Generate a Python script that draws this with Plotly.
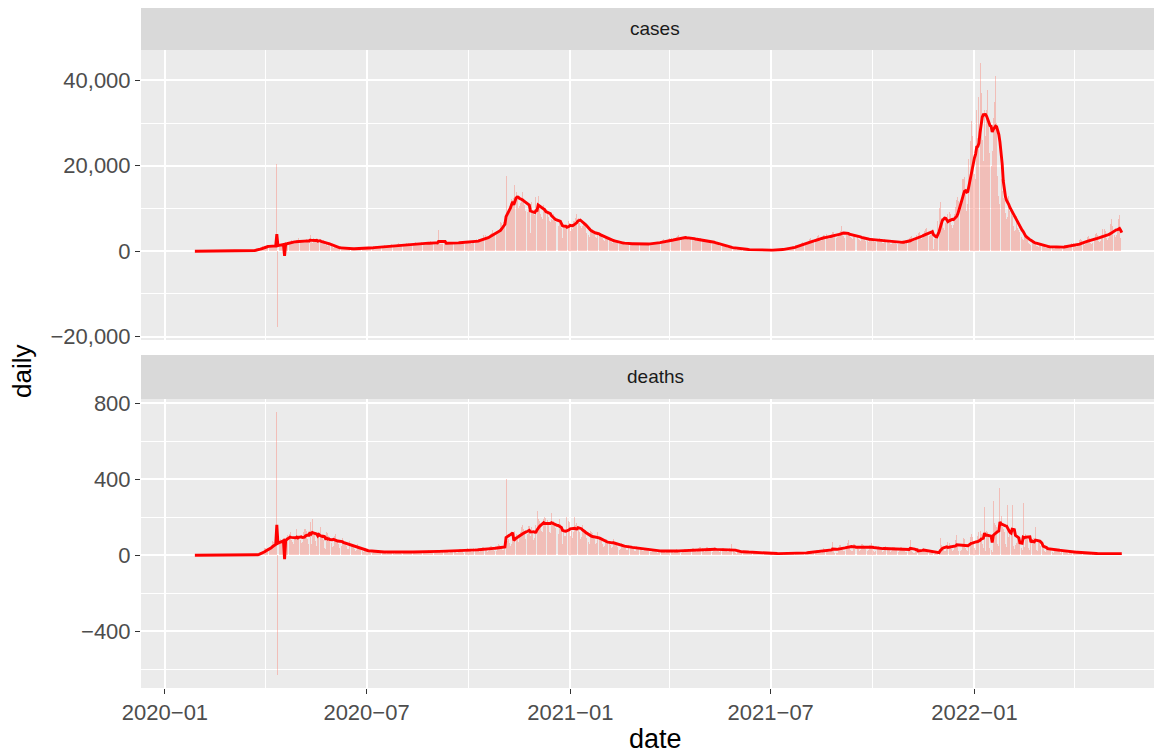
import pandas as pd
import plotly.graph_objects as go

# ---------------- data ----------------
start_date = "2020-01-22"
panel_names = ["cases", "deaths"]
x_tick_dates = ["2020-01-01", "2020-07-01", "2021-01-01", "2021-07-01", "2022-01-01"]
x_tick_labels = ["2020\u221201", "2020\u221207", "2021\u221201", "2021\u221207", "2022\u221201"]
x_minor_dates = ["2020-04-01", "2020-10-01", "2021-04-01", "2021-10-01", "2022-04-01"]
cases_tick_vals = [-20000, 0, 20000, 40000]
cases_tick_labels = ["\u221220,000", "0", "20,000", "40,000"]
cases_minor_vals = [-10000, 10000, 30000]
deaths_tick_vals = [-400, 0, 400, 800]
deaths_tick_labels = ["\u2212400", "0", "400", "800"]
deaths_minor_vals = [-600, -200, 200, 600]

# daily new cases, one row per week (Wed..Tue) starting 2020-01-22
cases_weeks = [
    [0, 0, 1, 0, 0, 0, 0], [0, 1, 0, 0, 0, 0, 0], [0, 0, 0, 0, 0, 0, 0], [0, 0, 0, 0, 0, 0, 0],
    [0, 0, 0, 0, 0, 0, 0], [0, 0, 0, 1, 0, 1, 0], [2, 0, 1, 0, 3, 1, 4], [6, 7, 14, 18, 29, 12, 55],
    [130, 180, 250, 270, 300, 350, 270], [600, 700, 800, 900, 1100, 950, 1250],
    [1000, 1200, 1250, 1150, 1100, 1050, 1300], [1300, 1350, 1400, 20400, -17700, 1450, 1600],
    [1500, 1750, 1850, 1700, 2050, 1800, 2150], [2050, 1950, 2700, 2450, 2100, 1850, 2250],
    [2200, 2600, 3100, 2450, 2300, 2100, 2200], [2300, 2650, 2850, 2550, 1850, 3700, 2050],
    [2000, 3200, 2500, 2250, 2050, 2300, 2500], [2350, 2250, 2000, 2550, 1700, 1400, 1900],
    [1100, 1600, 1300, 1200, 1000, 800, 1050], [900, 850, 750, 700, 600, 650, 800],
    [650, 600, 550, 500, 450, 480, 690], [620, 660, 600, 550, 480, 500, 790],
    [720, 880, 750, 650, 600, 540, 760], [870, 950, 800, 700, 660, 710, 1050],
    [1020, 1100, 1200, 850, 780, 720, 1000], [1200, 1250, 1400, 1100, 950, 900, 1250],
    [1550, 1400, 1650, 1300, 1200, 1100, 1250], [1650, 1900, 1750, 1500, 1350, 1300, 1400],
    [1800, 1950, 1650, 1850, 1550, 1450, 1650], [1950, 1750, 2200, 1800, 1550, 1600, 1750],
    [1900, 2250, 2000, 1800, 1650, 1650, 1700], [2100, 2150, 2350, 1900, 1800, 1650, 1700],
    [2000, 1950, 5000, 1950, 1650, 1600, 1700], [1850, 2100, 2200, 1900, 1750, 1650, 1850],
    [1950, 2050, 2150, 1900, 1800, 1850, 1950], [2100, 2200, 2250, 1900, 1750, 1800, 2000],
    [2200, 2300, 2400, 2100, 1800, 1850, 2050], [2450, 2800, 2700, 2850, 2550, 2300, 2550],
    [2900, 3700, 3800, 3300, 3000, 2900, 3500], [4000, 4300, 4900, 4200, 3900, 4100, 4700],
    [5000, 5200, 6900, 6600, 6200, 6800, 7400], [17600, 8700, 9500, 10500, 10400, 12300, 11900],
    [12500, 15600, 13900, 12200, 10100, 10600, 11200], [12300, 13800, 12000, 10700, 9400, 9200, 9600],
    [10700, 4200, 11600, 9300, 9500, 8400, 12800], [11000, 12900, 10200, 8800, 7900, 7600, 10900],
    [9400, 10000, 9300, 8000, 7000, 6800, 7600], [7200, 8800, 7500, 6900, 6000, 5800, 7500],
    [6700, 5500, 3200, 6300, 5800, 5900, 5800], [7100, 6700, 4800, 6000, 5300, 7100, 7100],
    [7800, 8700, 7700, 6700, 5900, 5500, 6000], [6600, 6400, 6000, 4200, 3900, 3400, 4500],
    [4800, 5300, 4500, 4000, 3300, 3000, 4500], [4000, 3800, 3600, 3200, 2700, 2500, 3300],
    [2900, 3100, 2700, 2400, 2100, 2000, 2300], [2400, 2500, 2300, 2000, 1800, 1700, 1650],
    [1900, 2000, 2100, 1700, 1600, 1500, 1800], [1900, 2000, 1800, 1650, 1500, 1400, 1650],
    [1800, 1850, 1800, 1650, 1450, 1400, 1600], [1800, 2000, 1900, 1700, 1600, 1500, 1750],
    [2100, 2250, 2200, 2000, 1800, 1700, 1950], [2500, 2700, 2900, 2400, 2100, 2000, 2200],
    [2800, 3100, 3200, 2800, 2300, 2400, 2650], [3300, 3600, 3900, 3200, 2800, 2700, 2900],
    [3400, 3500, 3600, 3100, 2700, 2600, 2800], [3000, 3200, 3100, 2600, 2400, 2300, 2300],
    [2700, 3000, 2900, 2500, 2200, 2150, 2400], [2400, 2500, 2300, 2000, 1800, 1700, 2000],
    [1800, 1900, 1700, 1400, 1200, 1100, 1400], [1200, 1300, 1100, 900, 800, 700, 1000],
    [800, 900, 750, 600, 500, 350, 650], [550, 600, 500, 400, 350, 300, 450],
    [400, 420, 380, 280, 250, 220, 290], [300, 330, 310, 230, 200, 190, 260],
    [290, 320, 300, 220, 180, 170, 270], [330, 350, 280, 220, 160, 200, 350],
    [450, 520, 500, 400, 300, 330, 440], [700, 800, 820, 650, 550, 520, 720],
    [1100, 1300, 1450, 1250, 1100, 1050, 1500], [1700, 2000, 2200, 1700, 1500, 1500, 2000],
    [2400, 2800, 3000, 2300, 2100, 2200, 2700], [3100, 3500, 3800, 2800, 2500, 2500, 3150],
    [3700, 3800, 4000, 3200, 2900, 2900, 3650], [4000, 4400, 4600, 3500, 3200, 3300, 3950],
    [4500, 4800, 5900, 3800, 3500, 3200, 3700], [4400, 4600, 4500, 3400, 3100, 2900, 4050],
    [3700, 3900, 3800, 2900, 2600, 2500, 3350], [3100, 3300, 3200, 2500, 2300, 2200, 3000],
    [2900, 3100, 3100, 2400, 2200, 2100, 2750], [2900, 3000, 2900, 2300, 2000, 2000, 2750],
    [2600, 2700, 2500, 2000, 1800, 1800, 2350], [2300, 2400, 2300, 1700, 1600, 1600, 2100],
    [2400, 2700, 2600, 1900, 1700, 1900, 2550], [3000, 3400, 3500, 2500, 2300, 2500, 3100],
    [3800, 4300, 4500, 3200, 2900, 3100, 4100], [4700, 5300, 5500, 3900, 3500, 3800, 4800],
    [5200, 400, 2800, 3400, 3100, 7000, 10000], [11600, 7800, 7500, 5400, 5000, 6600, 7200],
    [8800, 9200, 8600, 6200, 5500, 6200, 8700], [10300, 11900, 12600, 11800, 10100, 12500, 16900],
    [16800, 17400, 13600, 9500, 11000, 21500, 25700], [30400, 27000, 19500, 18000, 17000, 33000, 26600],
    [36000, 44000, 37000, 26000, 21000, 33000, 27000], [33000, 37800, 31000, 23000, 20000, 23500, 31200],
    [35000, 41000, 30000, 17500, 13000, 11000, 17000], [14000, 12500, 12300, 9000, 7500, 8000, 13000],
    [9400, 9000, 8200, 5800, 4700, 5000, 8300], [5500, 5000, 4600, 3300, 2800, 2600, 4200],
    [3000, 2900, 2700, 1900, 1600, 1500, 2500], [2100, 2000, 1900, 1300, 1100, 1000, 1800],
    [1500, 1400, 1300, 900, 750, 700, 1150], [1250, 1200, 1150, 750, 600, 550, 1150],
    [1200, 1250, 1100, 750, 600, 600, 1150], [1450, 1500, 1400, 950, 800, 800, 1500],
    [1900, 2000, 1800, 1200, 1000, 1100, 1850], [2700, 2800, 2600, 1700, 1500, 1600, 2500],
    [3400, 3500, 3200, 2000, 1800, 1900, 3100], [4100, 4300, 3900, 2500, 2200, 2400, 3700],
    [5200, 5100, 4700, 3000, 2600, 3000, 4400], [6300, 7600, 5800, 3800, 3300, 3700, 4500],
    [7500, 8500, 3000, 0],
]

# daily new deaths, same weeks
deaths_weeks = [
    [0, 0, 0, 0, 0, 0, 0], [0, 0, 0, 0, 0, 0, 0], [0, 0, 0, 0, 0, 0, 0], [0, 0, 0, 0, 0, 0, 0],
    [0, 0, 0, 0, 0, 0, 0], [0, 0, 0, 0, 0, 0, 0], [0, 0, 0, 0, 0, 0, 0], [0, 0, 0, 0, 0, 0, 1],
    [0, 0, 2, 1, 2, 3, 4], [9, 10, 16, 14, 18, 23, 36], [40, 30, 40, 35, 45, 50, 75],
    [70, 60, 66, 754, -630, 70, 85], [80, 85, 90, 75, 70, 95, 107], [110, 125, 80, 70, 60, 95, 104],
    [140, 90, 105, 80, 65, 70, 122], [136, 140, 130, 85, 60, 176, 57], [190, 125, 110, 75, 50, 110, 110],
    [150, 90, 110, 80, 40, 35, 125], [115, 100, 85, 65, 45, 50, 100], [110, 85, 70, 60, 40, 50, 89],
    [80, 70, 60, 50, 35, 35, 76], [60, 55, 45, 35, 25, 30, 58], [40, 35, 30, 20, 15, 20, 36],
    [30, 25, 20, 15, 10, 12, 28], [25, 22, 20, 12, 10, 13, 24], [22, 20, 18, 14, 9, 12, 24],
    [20, 22, 17, 13, 8, 10, 22], [21, 23, 18, 14, 9, 12, 22], [22, 20, 19, 15, 10, 11, 22],
    [24, 22, 20, 14, 10, 12, 24], [25, 24, 21, 15, 11, 12, 25], [27, 25, 22, 16, 11, 13, 26],
    [28, 26, 24, 17, 12, 12, 28], [27, 29, 23, 16, 11, 13, 28], [30, 28, 25, 17, 12, 14, 28],
    [33, 32, 28, 20, 14, 15, 33], [36, 34, 30, 21, 15, 17, 36], [40, 37, 33, 24, 17, 20, 39],
    [45, 42, 38, 27, 19, 22, 45], [50, 47, 42, 30, 22, 25, 50], [58, 55, 48, 35, 26, 30, 56],
    [400, 75, 85, 65, 50, 60, 95], [120, 130, 110, 90, 70, 95, 120], [150, 160, 140, 110, 85, 110, 155],
    [155, 100, 150, 120, 80, 90, 159], [235, 190, 180, 160, 130, 120, 189], [200, 195, 185, 165, 120, 115, 224],
    [175, 180, 165, 145, 100, 110, 189], [165, 150, 60, 120, 100, 100, 201], [180, 175, 100, 130, 90, 120, 199],
    [160, 170, 150, 120, 85, 95, 158], [140, 130, 110, 90, 70, 60, 128], [120, 115, 105, 85, 60, 65, 122],
    [90, 95, 80, 60, 45, 50, 84], [85, 80, 70, 55, 40, 45, 87], [70, 65, 55, 45, 30, 35, 64],
    [60, 55, 48, 38, 28, 30, 56], [50, 48, 40, 32, 24, 25, 47], [42, 40, 35, 27, 20, 22, 38],
    [35, 32, 28, 22, 16, 18, 31], [30, 29, 25, 19, 14, 16, 28], [29, 27, 24, 18, 13, 16, 27],
    [28, 28, 25, 17, 13, 15, 28], [31, 30, 27, 19, 14, 17, 30], [35, 33, 30, 22, 16, 19, 34],
    [40, 38, 34, 25, 18, 22, 40], [42, 41, 37, 27, 19, 23, 42], [41, 40, 35, 26, 19, 22, 41],
    [38, 37, 33, 25, 18, 20, 39], [36, 34, 31, 23, 17, 19, 36], [28, 60, 22, 16, 10, 7, 25],
    [25, 24, 21, 15, 11, 12, 25], [20, 19, 17, 12, 8, 10, 19], [16, 15, 13, 10, 7, 8, 15],
    [15, 14, 12, 9, 6, 7, 14], [12, 12, 10, 7, 5, 6, 11], [12, 11, 10, 7, 5, 5, 13],
    [13, 13, 11, 8, 5, 6, 14], [15, 14, 12, 8, 6, 7, 15], [17, 17, 14, 10, 7, 8, 18],
    [23, 22, 19, 13, 9, 10, 23], [30, 28, 24, 17, 12, 14, 29], [36, 35, 30, 21, 15, 17, 35],
    [43, 68, 36, 14, 10, 12, 41], [55, 52, 45, 30, 22, 25, 51], [65, 80, 50, 30, 20, 20, 57],
    [62, 58, 50, 35, 25, 28, 57], [58, 55, 47, 32, 23, 26, 53], [52, 65, 42, 25, 16, 20, 46],
    [48, 46, 39, 27, 19, 22, 44], [47, 45, 38, 26, 18, 21, 43], [45, 44, 37, 26, 18, 20, 41],
    [41, 40, 33, 24, 16, 18, 38], [42, 82, 30, 15, 10, 10, 21], [38, 37, 31, 22, 15, 17, 36],
    [30, 29, 25, 17, 12, 13, 28], [25, 2, 8, 10, 6, 12, 35], [90, 55, 45, 30, 20, 25, 43],
    [70, 65, 55, 35, 25, 30, 56], [80, 108, 50, 25, 20, 30, 51], [90, 85, 40, 30, 25, 55, 95],
    [110, 95, 60, 40, 30, 70, 99], [120, 130, 110, 60, 40, 256, 20], [130, 120, 110, 40, 30, 17, 288],
    [170, 160, 150, 60, 50, 356, 209], [150, 140, 120, 60, 45, 265, 95], [120, 110, 265, 50, 35, 55, 65],
    [90, 85, 80, 40, 30, 274, 45], [110, 95, 85, 40, 30, 80, 85], [90, 85, 150, 30, 20, 70, 80],
    [50, 45, 40, 20, 15, 35, 40], [42, 40, 35, 18, 12, 28, 35], [34, 32, 28, 15, 10, 22, 27],
    [25, 24, 21, 11, 8, 16, 21], [21, 20, 18, 9, 6, 14, 17], [17, 16, 14, 7, 5, 11, 14],
    [14, 13, 12, 6, 4, 9, 12], [13, 12, 10, 5, 4, 8, 11], [12, 12, 11, 5, 3, 9, 11],
    [13, 11, 10, 5, 4, 8, 12], [12, 11, 9, 5],
]

cases = [v for wk in cases_weeks for v in wk]
deaths = [v for wk in deaths_weeks for v in wk]
dates = pd.date_range(start_date, periods=len(cases), freq="D")
cases_avg = pd.Series(cases, dtype=float).rolling(7).mean()
deaths_avg = pd.Series(deaths, dtype=float).rolling(7).mean()

# ---------------- layout constants ----------------
# the page body adds an 8px offset, so the figure is sized/positioned to compensate
OFF = 8
W, H = 1162 - OFF, 756 - OFF
L, R, T, B = 141 - OFF, 0, 0, 68
PH = H - T - B
PW = W - L - R
FULL_PANEL_RIGHT = 1169   # the reference panel runs past the right image edge
FONT = "Liberation Sans, Arial, Helvetica, sans-serif"
BAR_COLOR = "rgba(250,128,114,0.42)"
LINE_COLOR = "#FF0000"


def pyp(p):
    """screen pixel row -> paper y"""
    return (H - B - (p - OFF)) / PH


def pxp(p):
    """screen pixel column -> paper x"""
    return (p - OFF - L) / PW


strip1 = (8, 50)
panel1 = (50, 340)
strip2 = (355, 399)
panel2 = (399, 688)

# x range like ggplot (bar width 0.9 day, 5% expansion), cropped at the image edge
half = pd.Timedelta(hours=10.8)
x0, x1 = dates[0] - half, dates[-1] + half
pad = (x1 - x0) * 0.05
full_lo, full_hi = x0 - pad, x1 + pad
visible = (1162 - 141) / (FULL_PANEL_RIGHT - 141)
x_range = [str(full_lo), str(full_lo + (full_hi - full_lo) * visible)]
panel_center = pxp((141 + FULL_PANEL_RIGHT) / 2)


def yr(vals, avg):
    lo = min(min(vals), float(avg.min()))
    hi = max(max(vals), float(avg.max()))
    p = (hi - lo) * 0.05
    return [lo - p, hi + p]


fig = go.Figure()
bw = 0.9 * 24 * 3600 * 1000
fig.add_trace(go.Bar(x=dates, y=cases, width=bw, marker=dict(color=BAR_COLOR, line=dict(width=0)),
                     xaxis="x2", yaxis="y2", showlegend=False, hoverinfo="skip"))
fig.add_trace(go.Scatter(x=dates, y=cases_avg, mode="lines", line=dict(color=LINE_COLOR, width=2.9),
                         xaxis="x2", yaxis="y2", showlegend=False, connectgaps=False))
fig.add_trace(go.Bar(x=dates, y=deaths, width=bw, marker=dict(color=BAR_COLOR, line=dict(width=0)),
                     xaxis="x", yaxis="y", showlegend=False, hoverinfo="skip"))
fig.add_trace(go.Scatter(x=dates, y=deaths_avg, mode="lines", line=dict(color=LINE_COLOR, width=2.9),
                         xaxis="x", yaxis="y", showlegend=False, connectgaps=False))

TICK_SIZE = 22
tickfont = dict(family=FONT, size=TICK_SIZE, color="#4D4D4D")
grid = dict(showgrid=True, gridcolor="white", gridwidth=1.7, zeroline=False, showline=False,
            automargin=False)
minor_x = dict(tickmode="array", tickvals=x_minor_dates, showgrid=True, gridcolor="white",
               gridwidth=0.8, ticks="")

fig.update_layout(
    template="none",
    width=W, height=H,
    margin=dict(l=L, r=R, t=T, b=B, pad=0, autoexpand=False),
    paper_bgcolor="white", plot_bgcolor="#EBEBEB",
    bargap=0, barmode="overlay", showlegend=False,
    xaxis=dict(domain=[0, 1], anchor="y", type="date", range=x_range,
               tickmode="array", tickvals=x_tick_dates, ticktext=x_tick_labels,
               ticks="outside", ticklen=5, tickwidth=1.1, tickcolor="#333333",
               tickfont=tickfont, minor=minor_x, **grid),
    xaxis2=dict(domain=[0, 1], anchor="y2", type="date", range=x_range, matches="x",
                tickmode="array", tickvals=x_tick_dates, showticklabels=False, ticks="",
                minor=minor_x, **grid),
    yaxis=dict(domain=[0, pyp(panel2[0])], anchor="x", range=yr(deaths, deaths_avg),
               tickmode="array", tickvals=deaths_tick_vals, ticktext=deaths_tick_labels,
               ticks="outside", ticklen=5, tickwidth=1.1, tickcolor="#333333", tickfont=tickfont,
               minor=dict(tickmode="array", tickvals=deaths_minor_vals, showgrid=True,
                          gridcolor="white", gridwidth=0.8, ticks=""), **grid),
    yaxis2=dict(domain=[pyp(panel1[1]), pyp(panel1[0])], anchor="x2", range=yr(cases, cases_avg),
                tickmode="array", tickvals=cases_tick_vals, ticktext=cases_tick_labels,
                ticks="outside", ticklen=5, tickwidth=1.1, tickcolor="#333333", tickfont=tickfont,
                minor=dict(tickmode="array", tickvals=cases_minor_vals, showgrid=True,
                           gridcolor="white", gridwidth=0.8, ticks=""), **grid),
)

shapes = []
annotations = []
for name, (top, bot) in zip(panel_names, [strip1, strip2]):
    shapes.append(dict(type="rect", xref="paper", yref="paper", x0=0, x1=1,
                       y0=pyp(bot), y1=pyp(top), fillcolor="#D9D9D9", line=dict(width=0),
                       layer="below"))
    annotations.append(dict(xref="paper", yref="paper", x=panel_center,
                            y=(pyp(bot) + pyp(top - 2)) / 2,
                            text=name, showarrow=False, xanchor="center", yanchor="middle",
                            font=dict(family=FONT, size=19, color="#1A1A1A")))
annotations.append(dict(xref="paper", yref="paper", x=pxp(22), y=pyp(372),
                        text="daily", showarrow=False, textangle=-90, xanchor="center",
                        yanchor="middle", font=dict(family=FONT, size=26, color="black")))
annotations.append(dict(xref="paper", yref="paper", x=panel_center, y=pyp(739),
                        text="date", showarrow=False, xanchor="center", yanchor="middle",
                        font=dict(family=FONT, size=27, color="black")))
fig.update_layout(shapes=shapes, annotations=annotations)

fig.write_html("out.html")
